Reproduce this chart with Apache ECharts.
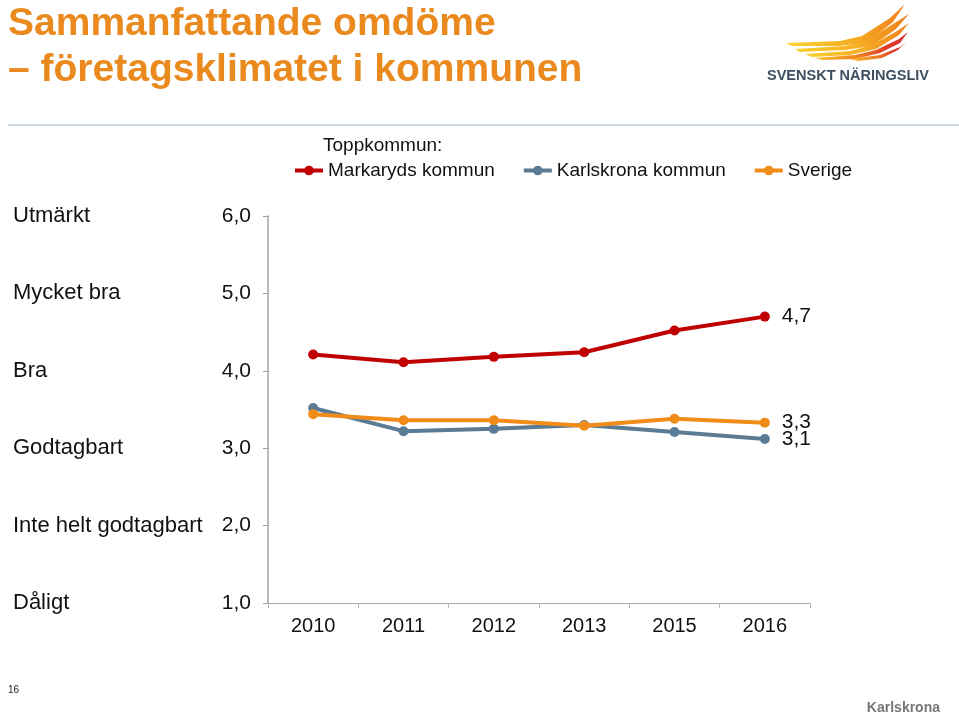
<!DOCTYPE html>
<html>
<head>
<meta charset="utf-8">
<script src="https://cdn.jsdelivr.net/npm/echarts@6/dist/echarts.min.js"></script>
<style>
html,body{margin:0;padding:0;background:#fff;}
#chart{width:959px;height:715px;}
</style>
</head>
<body>
<div id="chart"></div>
<script>
var years = ['2010', '2011', '2012', '2013', '2015', '2016'];
var markaryd = [4.21, 4.11, 4.18, 4.24, 4.52, 4.70];
var karlskrona = [3.52, 3.22, 3.25, 3.30, 3.21, 3.12];
var sverige = [3.44, 3.36, 3.36, 3.29, 3.38, 3.33];
var seriesNames = ['Markaryds kommun', 'Karlskrona kommun', 'Sverige'];
var ratingLabels = {1: 'Dåligt', 2: 'Inte helt godtagbart', 3: 'Godtagbart', 4: 'Bra', 5: 'Mycket bra', 6: 'Utmärkt'};
var lastLabels = ['4,7', '3,1', '3,3'];

var FONT = 'Liberation Sans, Arial, sans-serif';
var colors = ['#C00000', '#5B7B95', '#F28C18'];

function mkSeries(name, data, color, lastLabel, z) {
  return {
    name: name,
    type: 'line',
    data: data,
    z: z,
    symbol: 'circle',
    symbolSize: 10,
    lineStyle: {width: 4, color: color},
    itemStyle: {color: color},
    label: {
      show: true,
      position: 'right',
      distance: 12,
      color: '#111',
      fontFamily: FONT,
      fontSize: 21,
      formatter: function (p) { return p.dataIndex === data.length - 1 ? lastLabel : ''; }
    },
    emphasis: {disabled: true}
  };
}

function yellowGrad() {
  return new echarts.graphic.LinearGradient(0, 0, 1, 0, [
    {offset: 0, color: '#F9D232'}, {offset: 0.55, color: '#F6AE24'}, {offset: 1, color: '#F07F1E'}
  ]);
}
function redGrad() {
  return new echarts.graphic.LinearGradient(0, 0, 1, 0, [
    {offset: 0, color: '#F8C22A'}, {offset: 0.5, color: '#EE7A22'}, {offset: 0.75, color: '#E0402A'}, {offset: 1, color: '#D42A2E'}
  ]);
}

var chart = echarts.init(document.getElementById('chart'));
chart.setOption({
  animation: false,
  backgroundColor: '#ffffff',
  textStyle: {fontFamily: FONT},
  grid: {left: 268, right: 149, top: 216, bottom: 112},
  legend: {
    data: seriesNames,
    left: 293,
    top: 161,
    padding: 0,
    itemWidth: 28,
    itemHeight: 12,
    itemGap: 27,
    lineStyle: {width: 4},
    textStyle: {fontFamily: FONT, fontSize: 19, color: '#111'}
  },
  xAxis: {
    type: 'category',
    data: years,
    axisLine: {lineStyle: {color: '#A8A8A8', width: 1}},
    axisTick: {show: true, length: 5, lineStyle: {color: '#B8B8B8'}},
    axisLabel: {color: '#111', fontFamily: FONT, fontSize: 20, margin: 13}
  },
  yAxis: [{
    type: 'value',
    min: 1, max: 6, interval: 1,
    splitLine: {show: false},
    axisLine: {show: true, lineStyle: {color: '#A0A0A0', width: 1.5}},
    axisTick: {show: true, length: 5, lineStyle: {color: '#A0A0A0'}},
    axisLabel: {
      color: '#111', fontFamily: FONT, fontSize: 21, margin: 17,
      formatter: function (v) { return v.toFixed(1).replace('.', ','); }
    }
  }, {
    type: 'value',
    position: 'left',
    min: 1, max: 6, interval: 1,
    splitLine: {show: false},
    axisLine: {show: false},
    axisTick: {show: false},
    axisLabel: {
      color: '#111', fontFamily: FONT, fontSize: 22, margin: 255, align: 'left',
      formatter: function (v) { return ratingLabels[v] || ''; }
    }
  }],
  series: [
    mkSeries(seriesNames[0], markaryd, colors[0], lastLabels[0], 3),
    mkSeries(seriesNames[1], karlskrona, colors[1], lastLabels[1], 4),
    mkSeries(seriesNames[2], sverige, colors[2], lastLabels[2], 5)
  ],
  graphic: [
    {type: 'text', left: 8, top: 5, style: {text: 'Sammanfattande omdöme', fill: '#EA8A1E', font: 'bold 39px ' + FONT}},
    {type: 'text', left: 8, top: 51, style: {text: '– företagsklimatet i kommunen', fill: '#EA8A1E', font: 'bold 39px ' + FONT}},
    {type: 'line', shape: {x1: 8, y1: 125, x2: 959, y2: 125}, style: {stroke: '#BCCBD8', lineWidth: 1.5}},
    {type: 'text', left: 323, top: 136, style: {text: 'Toppkommun:', fill: '#111', font: '19px ' + FONT}},
    // logo wings
    {type: 'polygon', shape: {points: [[786,43],[840,41],[862,36],[890,18],[905,4],[893,22],[868,42],[840,46],[792,46]]}, style: {fill: yellowGrad()}},
    {type: 'polygon', shape: {points: [[795,49],[845,46],[868,40],[893,24],[909,14],[896,29],[872,46],[845,50],[800,52]]}, style: {fill: yellowGrad()}},
    {type: 'polygon', shape: {points: [[805,54],[850,51],[872,45],[897,31],[909,23],[899,35],[876,49],[850,55],[812,57]]}, style: {fill: yellowGrad()}},
    {type: 'polygon', shape: {points: [[815,58],[855,55],[876,50],[899,39],[908,32],[900,43],[880,53],[855,59],[822,60]]}, style: {fill: redGrad()}},
    {type: 'polygon', shape: {points: [[850,59],[880,55],[900,47],[906,42],[898,50],[882,58],[858,61]]}, style: {fill: redGrad()}},
    {type: 'text', left: 767, top: 68, style: {text: 'SVENSKT NÄRINGSLIV', fill: '#3D4E60', font: 'bold 14.5px ' + FONT}},
    {type: 'text', left: 8, top: 685, style: {text: '16', fill: '#222', font: '10px ' + FONT}},
    {type: 'text', right: 19, top: 701, style: {text: 'Karlskrona', fill: '#777', font: 'bold 14px ' + FONT}}
  ]
});
</script>
</body>
</html>
